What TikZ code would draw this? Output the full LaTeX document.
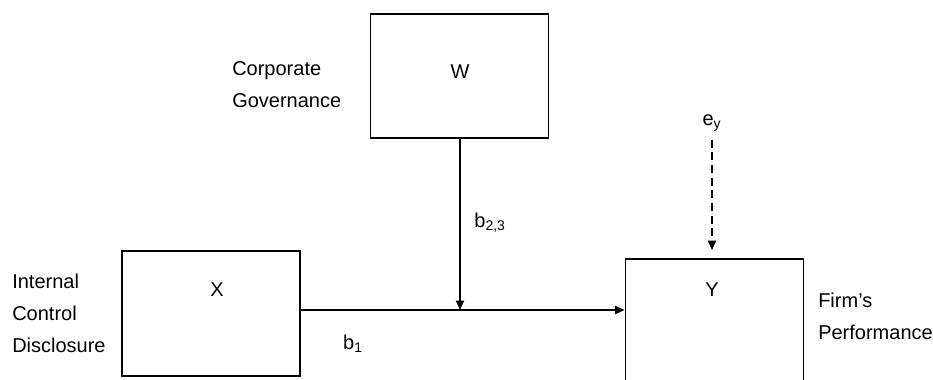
\documentclass[tikz,border=0pt]{standalone}
\usepackage{fontspec}
\setmainfont{Liberation Sans}
\usetikzlibrary{arrows.meta}
\begin{document}
\begin{tikzpicture}[x=0.75pt, y=-0.75pt]
	\tikzset{box/.style={draw, line width=1.4pt, inner sep=0, minimum width=133.5pt, minimum height=93.5pt}}
	\tikzset{txt/.style={inner sep=0, font=\fontsize{15}{24}\selectfont}}
	\tikzset{side/.style={txt, anchor=west, align=left}}
	\tikzset{ar/.style={-{Triangle[length=7pt, width=6pt]}, line width=1.3pt}}
	\useasboundingbox (0,0) rectangle (933,379);
	\clip (0,0) rectangle (933,379);
	% the three variables
	\node[box] at (459.5,76) (W) {};
	\node[box] at (211,313.5) (X) {};
	\node[box, anchor=north, minimum height=100pt] at (714.5,258) (Y) {};
	\node[txt] at (460,72) (w) {W};
	\node[txt] at (217,290) (x) {X};
	\node[txt] at (712,290) (y) {Y};
	% descriptions
	\node[side] at (232,85) (cg) {Corporate\\Governance};
	\node[side] at (12,313) (icd) {Internal\\Control\\Disclosure};
	\node[side] at (818,316.5) (fp) {Firm’s\\Performance};
	% paths
	\coordinate (m) at (460,310);
	\node[txt] at (712,123) (ey) {e\textsubscript{y}};
	\node[txt] at (490,223) (b23) {b\textsubscript{2,3}};
	\node[txt] at (353,344) (b1) {b\textsubscript{1}};
	\draw[ar] (X.east |- m) -- (Y.west |- m);
	\draw[ar] (W.south -| m) -- (m);
	\draw[ar, dash pattern=on 6pt off 3.5pt, shorten >=6pt] (ey.south) ++(0,8) -- (ey |- Y.north);
\end{tikzpicture}
\end{document}
